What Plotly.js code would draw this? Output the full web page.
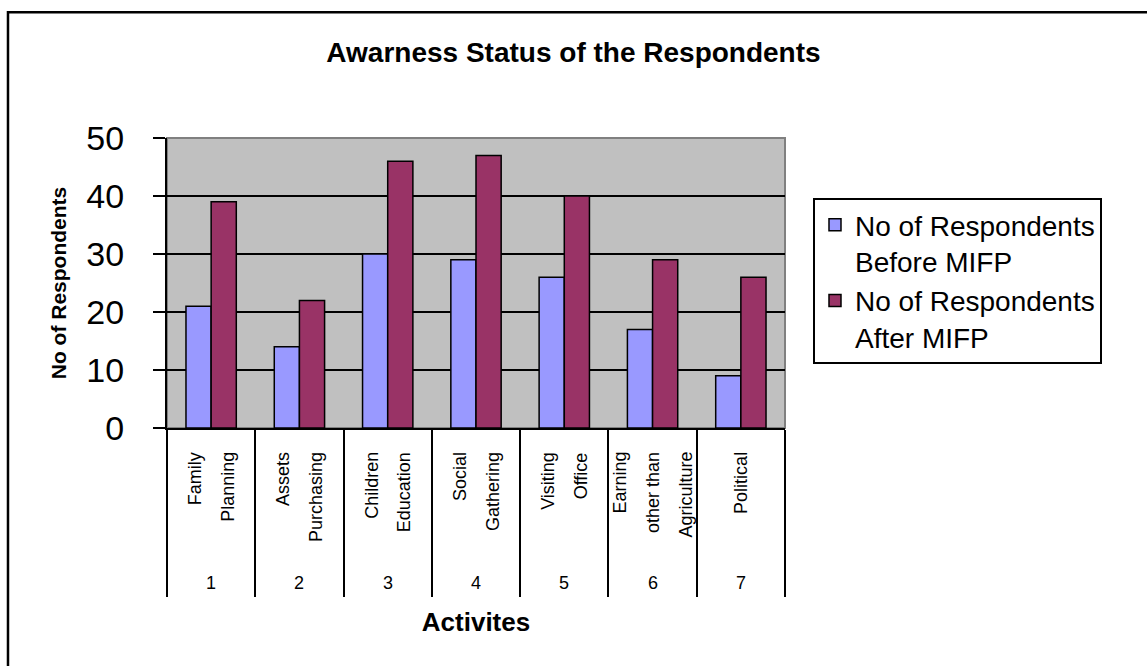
<!DOCTYPE html>
<html><head><meta charset="utf-8">
<script src="https://cdn.plot.ly/plotly-3.0.1.min.js"></script>
<style>html,body{margin:0;padding:0;background:#fff}#chart{width:1147px;height:666px}</style>
</head><body><div id="chart"></div>
<script>
// ---- data ----
const activityLines = [["Family","Planning"],["Assets","Purchasing"],["Children","Education"],["Social","Gathering"],["Visiting","Office"],["Earning","other than","Agriculture"],["Political"]];
const categories = activityLines.map(l => l.join(" "));
const activityNumbers = ["1","2","3","4","5","6","7"];
const beforeMIFP = [21,14,30,29,26,17,9];
const afterMIFP = [39,22,46,47,40,29,26];
const seriesNames = ["No of Respondents<br>Before MIFP","No of Respondents<br>After MIFP"];
const yTickVals = [0,10,20,30,40,50];

const FONT = "Liberation Sans, Arial, sans-serif";

const traces = [
  {type:"bar", name:seriesNames[0], x:categories, y:beforeMIFP,
   marker:{color:"#9999FF", line:{color:"#000", width:1.5}}},
  {type:"bar", name:seriesNames[1], x:categories, y:afterMIFP,
   marker:{color:"#993366", line:{color:"#000", width:1.5}}}
];

const annotations = [];
activityLines.forEach((lines, i) => {
  const n = lines.length, sp = 33;
  lines.forEach((t, j) => {
    annotations.push({xref:"x", yref:"paper", x:categories[i], y:-0.076,
      xanchor:"center", yanchor:"top", textangle:-90, showarrow:false,
      xshift:(j-(n-1)/2)*sp, text:t, font:{family:FONT, size:18, color:"#000"}});
  });
  annotations.push({xref:"x", yref:"paper", x:categories[i], y:-0.5345,
    xanchor:"center", yanchor:"middle", showarrow:false, text:activityNumbers[i],
    font:{family:FONT, size:18, color:"#000"}});
});

const layout = {
  width:1147, height:666,
  margin:{l:167, r:362, t:138, b:238},
  paper_bgcolor:"#fff", plot_bgcolor:"#C0C0C0",
  font:{family:FONT, color:"#000"},
  title:{text:"Awarness Status of the Respondents", x:0.5, xref:"container", xanchor:"center",
    y:1-52/666, yref:"container", yanchor:"middle",
    font:{family:FONT, size:28, weight:700, color:"#000"}},
  barmode:"group", bargap:0.43, bargroupgap:0,
  showlegend:true,
  legend:{x:1.0453, y:0.793, xanchor:"left", yanchor:"top", bgcolor:"#fff",
    bordercolor:"#000", borderwidth:2, valign:"top",
    font:{family:FONT, size:28, color:"#000"}, tracegroupgap:0},
  xaxis:{type:"category", tickson:"boundaries", ticks:"outside", ticklen:167, tickwidth:2,
    tickcolor:"#000", showticklabels:false, showline:true, linecolor:"#000", linewidth:2,
    showgrid:false, zeroline:false, fixedrange:true,
    title:{text:"Activites", standoff:184, font:{family:FONT, size:26, weight:700, color:"#000"}}},
  yaxis:{range:[0,50], tickvals:yTickVals, ticks:"outside", ticklen:12, tickwidth:2, tickcolor:"#000",
    ticklabelstandoff:22, tickfont:{family:FONT, size:34, color:"#000"},
    showline:true, linecolor:"#000", linewidth:2, showgrid:true, gridcolor:"#000", gridwidth:1.5,
    zeroline:false, fixedrange:true,
    title:{text:"No of Respondents", standoff:14, font:{family:FONT, size:21, weight:700, color:"#000"}}},
  annotations:annotations,
  shapes:[
    {type:"rect", xref:"paper", yref:"paper", x0:0, x1:1, y0:0, y1:1, layer:"below",
     line:{color:"#808080", width:2}},
    {type:"rect", xref:"paper", yref:"paper", x0:-0.2573, x1:1.75, y0:-1.0, y1:1.434, layer:"above",
     line:{color:"#000", width:2.5}}
  ]
};

Plotly.newPlot("chart", traces, layout, {displayModeBar:false, staticPlot:true});
</script></body></html>
